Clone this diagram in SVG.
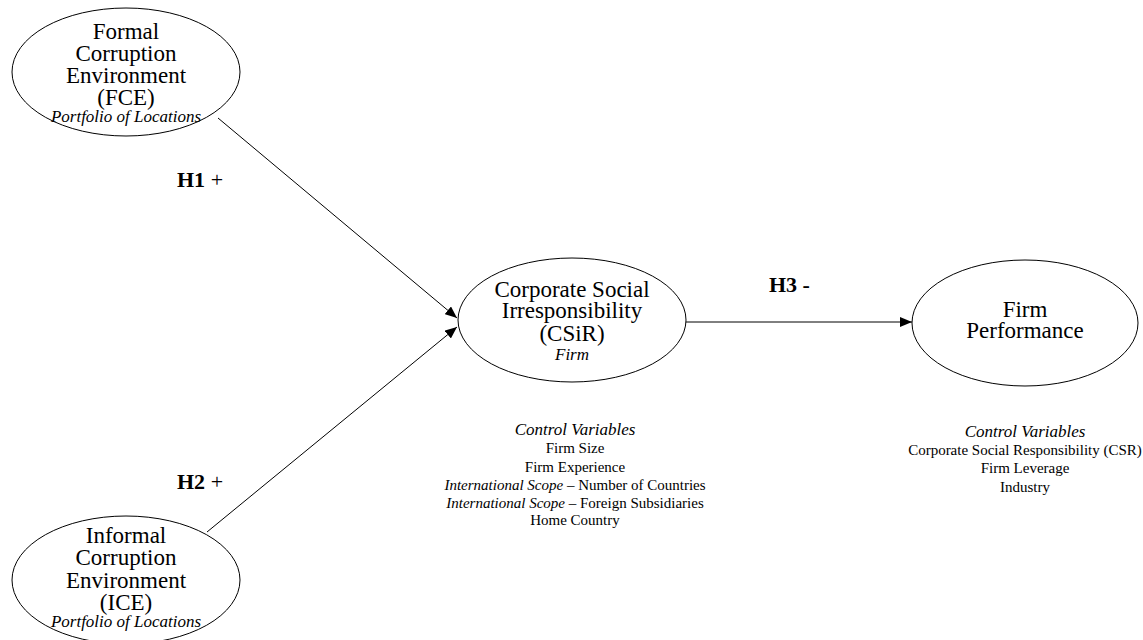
<svg xmlns="http://www.w3.org/2000/svg" width="1143" height="640" viewBox="0 0 1143 640" font-family="'Liberation Serif', 'DejaVu Serif', serif">
<style>
.node{fill:#fff;stroke:#000;stroke-width:1}
.t{font-family:'Liberation Serif','DejaVu Serif',serif;fill:#000;text-anchor:middle}
.big{font-size:23px}
.it{font-style:italic}
.sub{font-size:17px;font-style:italic}
.sm{font-size:15px}
.cv{font-size:17px;font-style:italic}
.lab{font-family:'Liberation Serif','DejaVu Serif',serif;font-size:22px;fill:#000}
.edge{stroke:#000;stroke-width:1;fill:none}
</style>
<defs>
<marker id="ah" viewBox="0 0 12 10" refX="12" refY="5" markerWidth="12" markerHeight="10" markerUnits="userSpaceOnUse" orient="auto">
<path d="M0,0 L12,5 L0,10 z" fill="#000"/>
</marker>
</defs>
<g id="connectors">
<line class="edge" x1="218" y1="118" x2="457" y2="318" marker-end="url(#ah)"/>
<line class="edge" x1="207" y1="532" x2="457" y2="327" marker-end="url(#ah)"/>
<line class="edge" x1="686" y1="322" x2="912" y2="322" stroke="#333" marker-end="url(#ah)"/>
<text class="lab" x="177" y="187"><tspan font-weight="bold">H1</tspan> +</text>
<text class="lab" x="177" y="489"><tspan font-weight="bold">H2</tspan> +</text>
<text class="lab" x="769" y="292" font-weight="bold">H3 -</text>
</g>
<g id="fce">
<ellipse class="node" cx="126" cy="72" rx="114" ry="64"/>
<text class="t big" x="126" y="39">Formal</text>
<text class="t big" x="126" y="61">Corruption</text>
<text class="t big" x="126" y="83">Environment</text>
<text class="t big" x="126" y="105">(FCE)</text>
<text class="t sub" x="126" y="122">Portfolio of Locations</text>
</g>
<g id="ice">
<ellipse class="node" cx="126" cy="580" rx="114" ry="64"/>
<text class="t big" x="126" y="543">Informal</text>
<text class="t big" x="126" y="565">Corruption</text>
<text class="t big" x="126" y="588">Environment</text>
<text class="t big" x="126" y="610">(ICE)</text>
<text class="t sub" x="126" y="627">Portfolio of Locations</text>
</g>
<g id="csir">
<ellipse class="node" cx="572" cy="320" rx="114" ry="62"/>
<text class="t big" x="572" y="297">Corporate Social</text>
<text class="t big" x="572" y="318">Irresponsibility</text>
<text class="t big" x="572" y="341">(CSiR)</text>
<text class="t sub" x="572" y="360">Firm</text>
</g>
<g id="perf">
<ellipse class="node" cx="1025" cy="323" rx="113" ry="63"/>
<text class="t big" x="1025" y="317">Firm</text>
<text class="t big" x="1025" y="338">Performance</text>
</g>
<g id="controls-csir">
<text class="t cv" x="575" y="435">Control Variables</text>
<text class="t sm" x="575" y="453">Firm Size</text>
<text class="t sm" x="575" y="472">Firm Experience</text>
<text class="t sm" x="575" y="490"><tspan font-style="italic">International Scope</tspan> – Number of Countries</text>
<text class="t sm" x="575" y="508"><tspan font-style="italic">International Scope</tspan> – Foreign Subsidiaries</text>
<text class="t sm" x="575" y="525">Home Country</text>
</g>
<g id="controls-perf">
<text class="t cv" x="1025" y="437">Control Variables</text>
<text class="t sm" x="1025" y="455">Corporate Social Responsibility (CSR)</text>
<text class="t sm" x="1025" y="473">Firm Leverage</text>
<text class="t sm" x="1025" y="492">Industry</text>
</g>
</svg>
